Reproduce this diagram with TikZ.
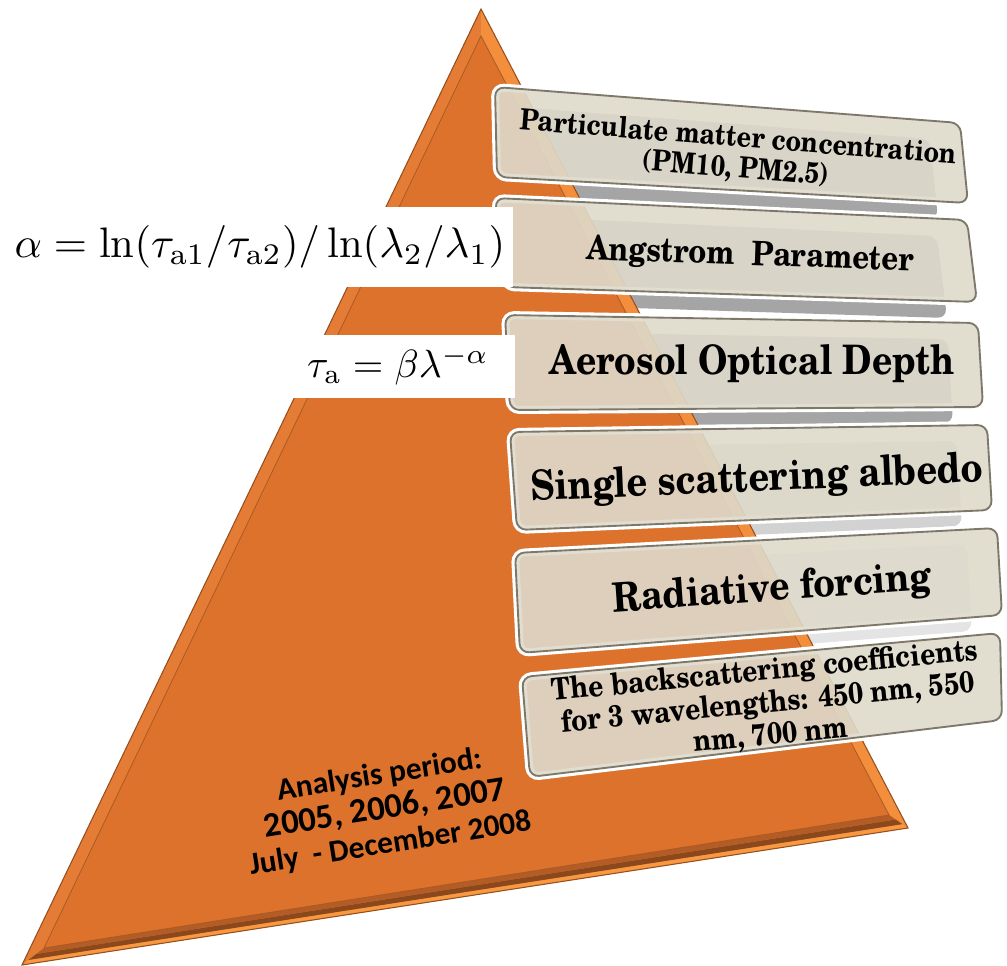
\documentclass[tikz,border=0pt]{standalone}
\usepackage{fontspec}
\newfontfamily\schola{TeX Gyre Schola}
\newfontfamily\carlito{Carlito}
\usetikzlibrary{calc}
\definecolor{tri}{RGB}{221,114,44}
\definecolor{trileft}{RGB}{228,124,54}
\definecolor{triright}{RGB}{242,142,60}
\definecolor{tririm}{RGB}{248,152,64}
\definecolor{tribrownA}{RGB}{180,92,38}
\definecolor{tribrownB}{RGB}{138,72,28}
\definecolor{trioutline}{RGB}{150,80,32}
\definecolor{boxfill}{RGB}{222,218,203}
\definecolor{boxline}{RGB}{125,120,104}
\definecolor{shadowgray}{RGB}{165,165,165}
\tikzset{
  boxrim/.style={draw=white, line width=6pt, rounded corners=7pt},
  boxbody/.style={fill=boxfill, fill opacity=0.9, draw=boxline, line width=1.4pt, rounded corners=7pt},
  boxshadow/.style={fill=shadowgray, rounded corners=7pt},
  boxtext/.style={align=center, text=black, inner sep=0pt},
  stretched/.style={yscale=1.15, transform shape},
  formula/.style={inner sep=0pt, text=black},
}
\begin{document}
\begin{tikzpicture}[x=0.75pt,y=-0.75pt]
\useasboundingbox (0,0) rectangle (1007,966);
% shadows behind the pyramid
\begin{scope}[shift={(-30,16)}]
  \fill[boxshadow] (495,87) -- (960,123) -- (968,203) -- (497,177) -- cycle;
  \fill[boxshadow] (495,198) -- (967,220) -- (977,302) -- (505,287) -- cycle;
  \fill[boxshadow] (505,315) -- (978,323) -- (983,407) -- (510,410) -- cycle;
  \fill[boxshadow, fill=shadowgray!50!white] (510,432) -- (987,425) -- (992,510) -- (517,530) -- cycle;
  \fill[boxshadow, fill=shadowgray!30!white] (515,553) -- (997,528) -- (1002,615) -- (520,653) -- cycle;
\end{scope}
% pyramid
\coordinate (A) at (481,9);
\coordinate (B) at (22,965);
\coordinate (C) at (908,828);
\coordinate (Ai) at (481,36);
\coordinate (Bi) at (44,948);
\coordinate (Ci) at (889,815);
\fill[tri] (A) -- (B) -- (C) -- cycle;
\fill[trileft] (A) -- (B) -- (Bi) -- (Ai) -- cycle;
\fill[triright] (A) -- (C) -- (Ci) -- (Ai) -- cycle;
\fill[tririm] (B) -- (C) -- ($(C)!0.3!(Ci)$) -- ($(B)!0.3!(Bi)$) -- cycle;
\fill[tribrownB] ($(B)!0.3!(Bi)$) -- ($(C)!0.3!(Ci)$) -- ($(C)!0.65!(Ci)$) -- ($(B)!0.65!(Bi)$) -- cycle;
\fill[tribrownA] ($(B)!0.65!(Bi)$) -- ($(C)!0.65!(Ci)$) -- (Ci) -- (Bi) -- cycle;
\draw[trioutline, line width=0.8pt] (A) -- (B) -- (C) -- cycle;
\draw[trioutline!70!tri, line width=0.6pt] (Ai) -- (Bi) -- (Ci) -- cycle;
% analysis period
\node[boxtext, font=\carlito\bfseries\fontsize{23.5}{26}\selectfont, rotate=9] (period) at (385,810)
  {Analysis period:\\{\fontsize{26}{26}\selectfont 2005, 2006, 2007}\\July~ - December 2008};
% boxes
\foreach \a/\b/\c/\d/\e/\f/\g/\h in {
  495/87/960/123/968/203/497/177,
  495/198/967/220/977/302/505/287,
  505/315/978/323/983/407/510/410,
  510/432/987/425/992/510/517/530,
  515/553/997/528/1002/615/520/653,
  522/677/1000/633/1002/720/530/777}{
  \draw[boxrim] (\a,\b) -- (\c,\d) -- (\e,\f) -- (\g,\h) -- cycle;
  \draw[boxbody] (\a,\b) -- (\c,\d) -- (\e,\f) -- (\g,\h) -- cycle;
}
\node[boxtext, font=\schola\bfseries\fontsize{19}{20}\selectfont, rotate=-4.5, stretched] (pm) at (737,154)
  {Particulate matter concentration\\(PM10, PM2.5)};
\node[boxtext, font=\schola\bfseries\fontsize{22}{26}\selectfont, rotate=-2, stretched] (ang) at (750,256)
  {Angstrom~ Parameter};
\node[boxtext, font=\schola\bfseries\fontsize{26.5}{32}\selectfont, stretched] (aod) at (752,364)
  {Aerosol Optical Depth};
\node[boxtext, font=\schola\bfseries\fontsize{27}{32}\selectfont, rotate=2.5, stretched] (ssa) at (757,480)
  {Single scattering albedo};
\node[boxtext, font=\schola\bfseries\fontsize{26.5}{32}\selectfont, rotate=4, stretched] (rf) at (772,590)
  {Radiative forcing};
\node[boxtext, font=\schola\bfseries\fontsize{19.8}{21}\selectfont, rotate=5.5, stretched] (bsc) at (768,704)
  {The backscattering coefficients\\for 3 wavelengths: 450 nm, 550\\nm, 700 nm};
% formulas
\fill[white] (0,207) rectangle (513,287);
\fill[white] (292,335) rectangle (515,398);
\node[formula] (alpha) at (260,247)
  {\scalebox{3.2}{$\alpha = \ln(\tau_{\mathrm{a}1}/\tau_{\mathrm{a}2})/\ln(\lambda_2/\lambda_1)$}};
\node[formula] (tau) at (398,366)
  {\scalebox{2.95}{$\tau_{\mathrm{a}} = \beta\lambda^{-\alpha}$}};
\end{tikzpicture}
\end{document}
